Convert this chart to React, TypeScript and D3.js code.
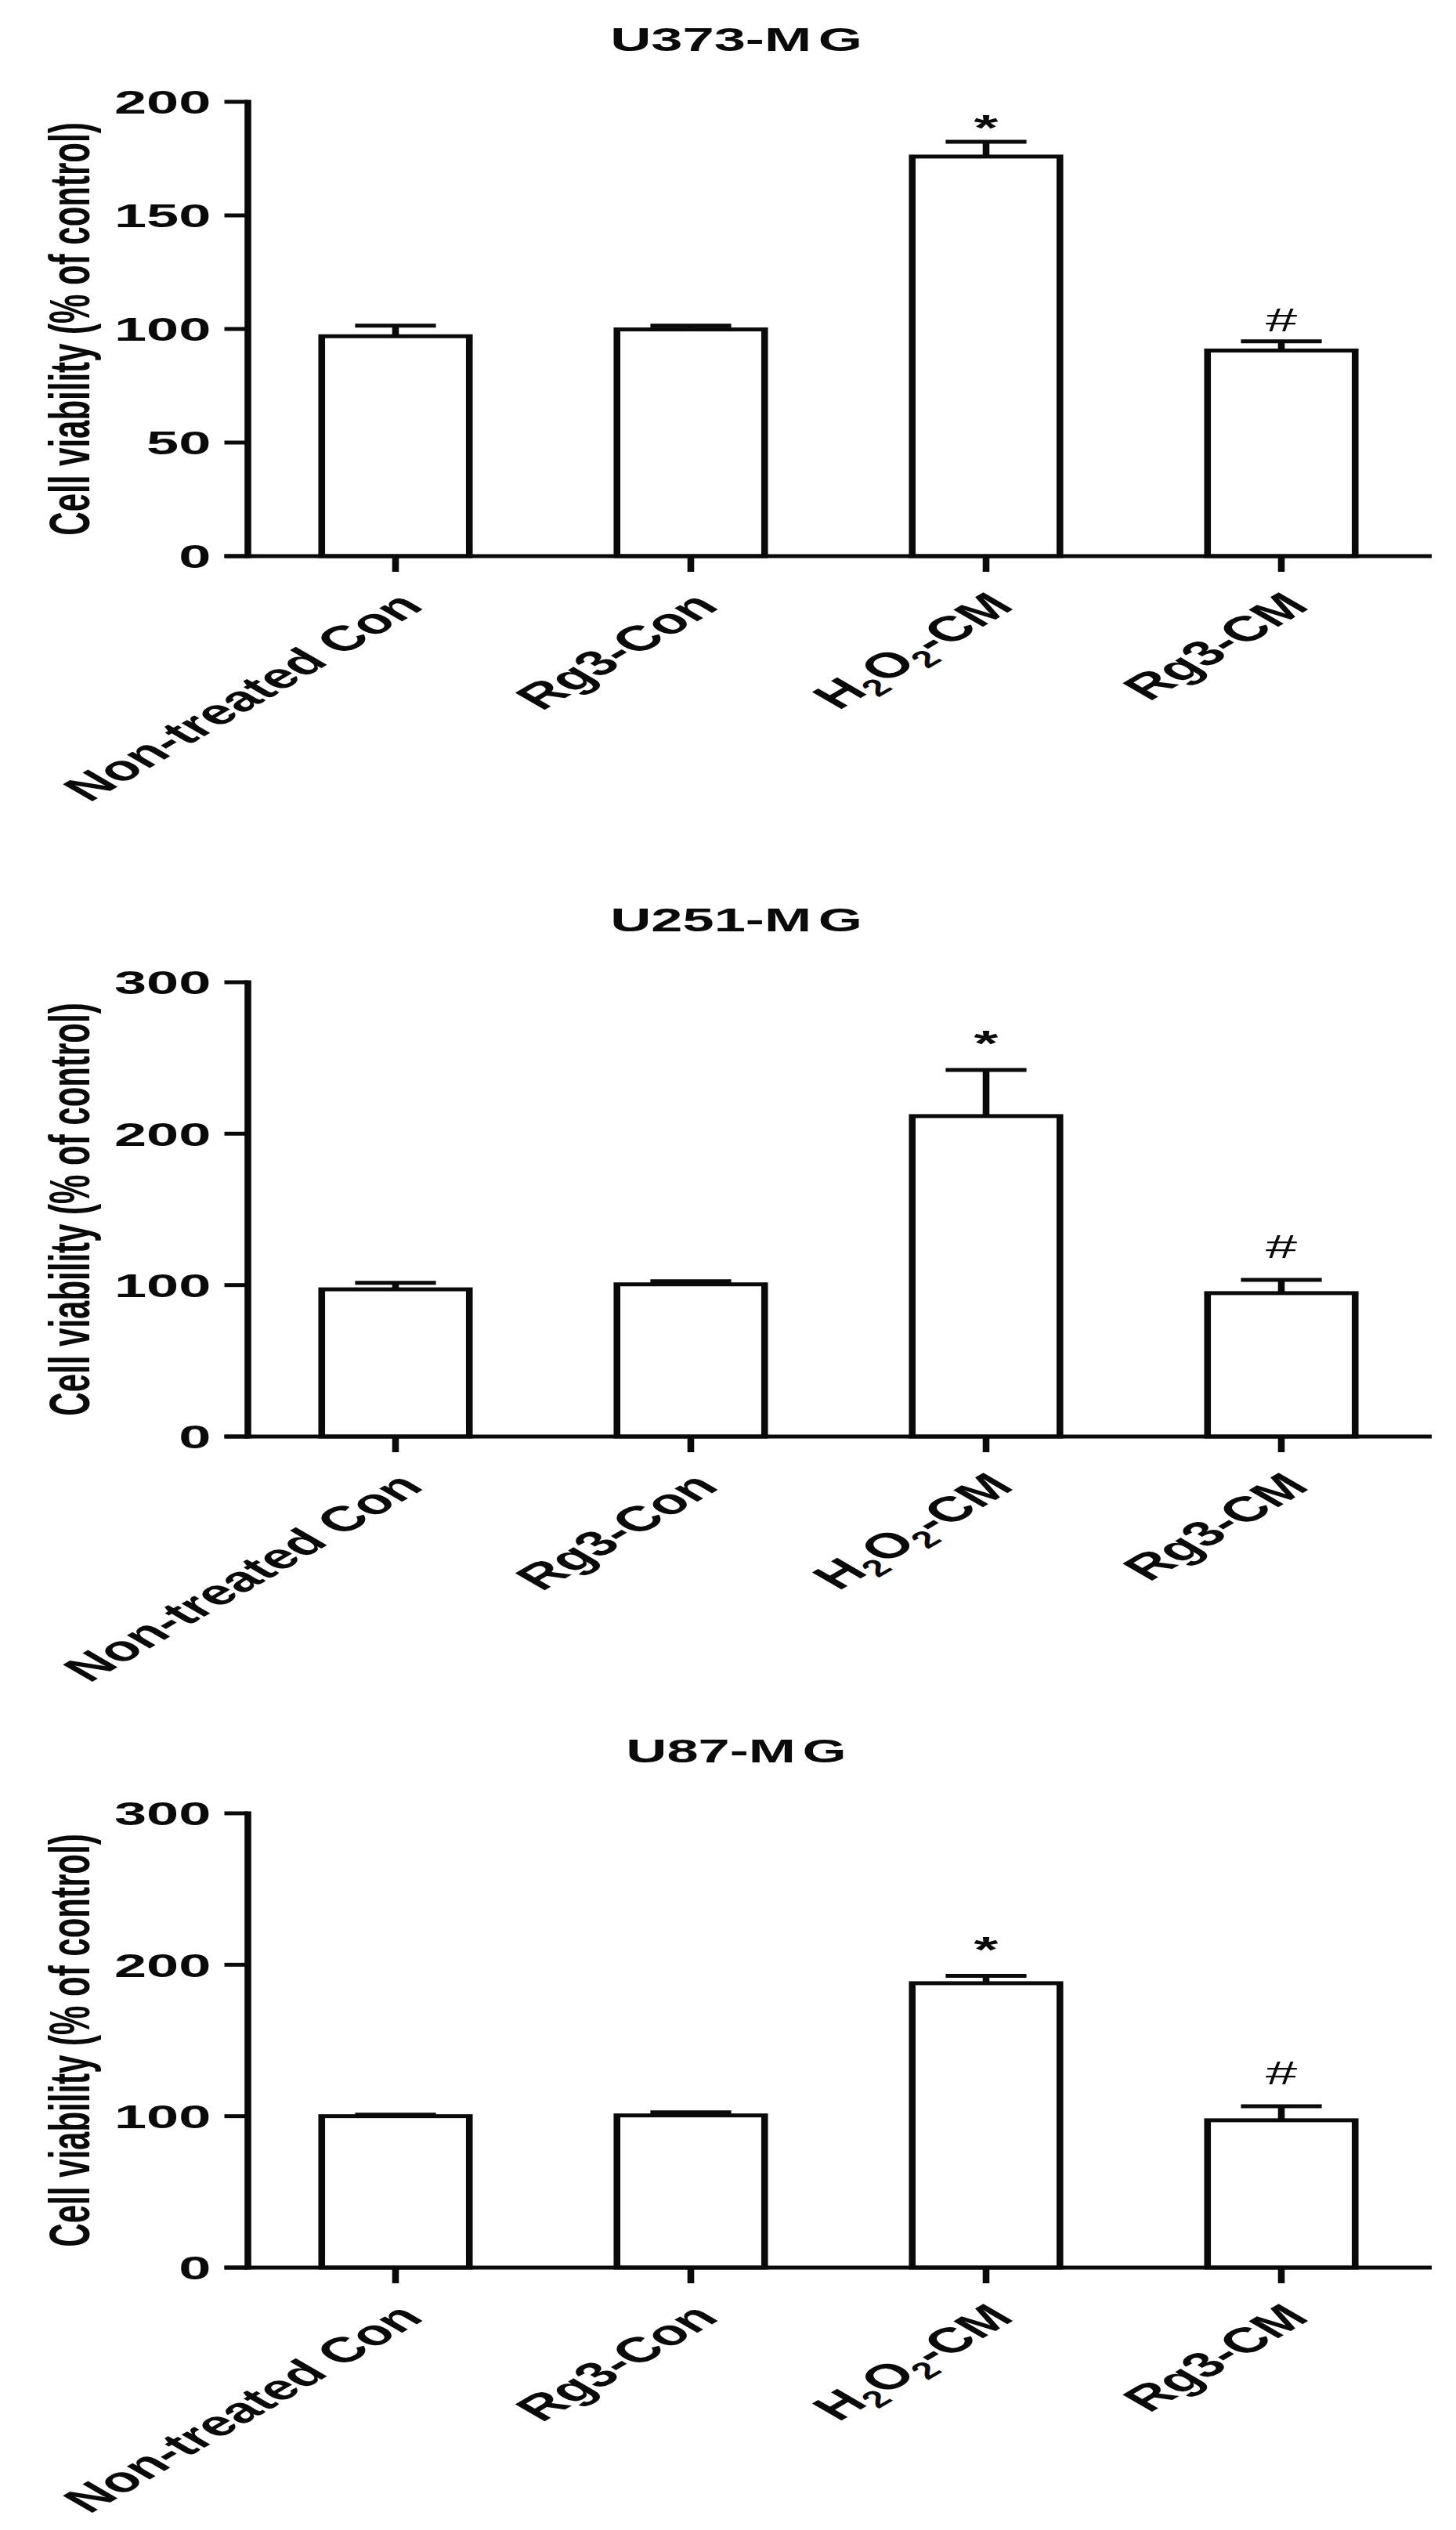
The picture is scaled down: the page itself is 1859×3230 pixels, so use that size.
import * as React from "react";
import * as d3 from "d3";

// groups on the x axis (same for every panel)
const CATEGORIES = ["Non-treated Con", "Rg3-Con", "H2O2-CM", "Rg3-CM"];
const MARKS = ["", "", "*", "#"];

const PANEL_TITLES = ["U373-MG", "U251-MG", "U87-MG"];
const Y_MAX = [200, 300, 300];
const Y_TICKS = [
  [0, 50, 100, 150, 200],
  [0, 100, 200, 300],
  [0, 100, 200, 300],
];

// cell viability, % of control (mean and SEM)
const U373_MEAN = [96.8, 99.8, 175.9, 90.5];
const U373_SEM = [4.7, 1.7, 6.5, 4.1];
const U251_MEAN = [97.2, 100.5, 211.6, 94.7];
const U251_SEM = [4.3, 2.0, 30.5, 8.8];
const U87_MEAN = [100.0, 100.5, 187.8, 97.3];
const U87_SEM = [1.0, 2.0, 4.9, 9.3];

const MEANS = [U373_MEAN, U251_MEAN, U87_MEAN];
const SEMS = [U373_SEM, U251_SEM, U87_SEM];

// the original figure is stretched horizontally; draw in plain units and scale x
const SX = 1.72;
const W = 1859;
const H = 3230;
const PANEL_TOP = [130, 1254, 2315];
const PLOT_H = 580;
const MARK_GAP = [27, 43, 43];
const FONT = "'Liberation Sans', Arial, Helvetica, sans-serif";
const INK = "#0a0a0a";
const SW = 5;

const AXIS_X = 316.5 / SX;
const X_END = 1824.5 / SX;

function CategoryLabel({ text }: { text: string }) {
  if (text.startsWith("H2O2")) {
    return (
      <>
        H<tspan fontSize={30} dy={9}>2</tspan>
        <tspan dy={-9}>O</tspan>
        <tspan fontSize={30} dy={9}>2</tspan>
        <tspan dy={-9}>{text.slice(4)}</tspan>
      </>
    );
  }
  return <>{text}</>;
}

function Panel({ idx }: { idx: number }) {
  const top = PANEL_TOP[idx];
  const x = d3
    .scaleBand<string>()
    .domain(CATEGORIES)
    .range([AXIS_X, X_END])
    .paddingInner(0.5)
    .paddingOuter(0.25);
  const y = d3.scaleLinear().domain([0, Y_MAX[idx]]).range([top + PLOT_H, top]);
  const y0 = y(0);
  const tickLen = 30 / SX;
  const capHalf = 30;
  const means = MEANS[idx];
  const sems = SEMS[idx];

  return (
    <g>
      <text
        x={940 / SX}
        y={top - 65}
        textAnchor="middle"
        fontFamily={FONT}
        fontWeight="bold"
        fontSize={42}
        fill={INK}
      >
        {PANEL_TITLES[idx].slice(0, -1)}
        <tspan dx={5}>{PANEL_TITLES[idx].slice(-1)}</tspan>
      </text>

      {/* y axis */}
      <line x1={AXIS_X} x2={AXIS_X} y1={y0} y2={y(Y_MAX[idx])} stroke={INK} strokeWidth={SW} strokeLinecap="square" />
      {Y_TICKS[idx].map((t) => (
        <g key={t}>
          <line x1={AXIS_X - tickLen} x2={AXIS_X} y1={y(t)} y2={y(t)} stroke={INK} strokeWidth={SW} />
          <text
            x={AXIS_X - tickLen - 10}
            y={y(t)}
            dy="0.36em"
            textAnchor="end"
            fontFamily={FONT}
            fontWeight="bold"
            fontSize={43}
            fill={INK}
          >
            {t}
          </text>
        </g>
      ))}
      <text
        transform={`translate(66,${(y0 + y(Y_MAX[idx])) / 2}) rotate(-90)`}
        textAnchor="middle"
        fontFamily={FONT}
        fontWeight="bold"
        fontSize={42}
        fill={INK}
      >
        Cell viability (% of control)
      </text>

      {/* bars with upper error bars */}
      {CATEGORIES.map((c, i) => {
        const bx = x(c) ?? 0;
        const cx = bx + x.bandwidth() / 2;
        const top1 = y(means[i]);
        const top2 = y(means[i] + sems[i]);
        return (
          <g key={c}>
            <line x1={cx} x2={cx} y1={top1} y2={top2} stroke={INK} strokeWidth={SW} />
            <line x1={cx - capHalf} x2={cx + capHalf} y1={top2} y2={top2} stroke={INK} strokeWidth={SW} />
            <rect x={bx} y={top1} width={x.bandwidth()} height={y0 - top1} fill="#fff" stroke={INK} strokeWidth={SW} />
            {MARKS[i] ? (
              <text
                x={cx}
                y={top2 - MARK_GAP[idx]}
                dy={MARKS[i] === "*" ? "0.55em" : "0.35em"}
                textAnchor="middle"
                fontFamily={FONT}
                fontWeight={MARKS[i] === "*" ? "bold" : "normal"}
                fontSize={MARKS[i] === "*" ? 46 : 42}
                fill={INK}
              >
                {MARKS[i]}
              </text>
            ) : null}
            <line x1={cx} x2={cx} y1={y0} y2={y0 + 20} stroke={INK} strokeWidth={SW} />
            <text
              transform={`translate(${cx + 22},${y0 + 66}) rotate(-45)`}
              textAnchor="end"
              fontFamily={FONT}
              fontWeight="bold"
              fontSize={45}
              fill={INK}
            >
              <CategoryLabel text={c} />
            </text>
          </g>
        );
      })}

      {/* x axis */}
      <line x1={AXIS_X - tickLen} x2={1828 / SX} y1={y0} y2={y0} stroke={INK} strokeWidth={SW} />
    </g>
  );
}

export default function App() {
  React.useEffect(() => {
    document.body.style.margin = "0";
    document.body.style.background = "#fff";
  }, []);

  return (
    <svg width={W} height={H} viewBox={`0 0 ${W} ${H}`} style={{ display: "block", background: "#fff" }}>
      <g transform={`scale(${SX},1)`}>
        {PANEL_TITLES.map((_, i) => (
          <Panel key={i} idx={i} />
        ))}
      </g>
    </svg>
  );
}
